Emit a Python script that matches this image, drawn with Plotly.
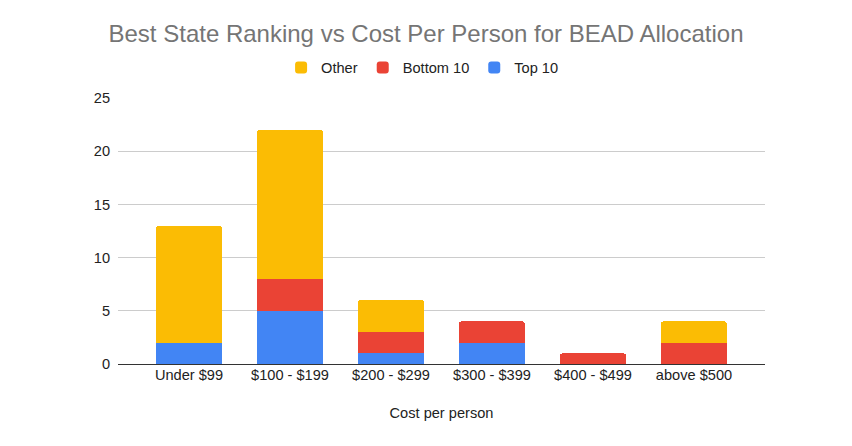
import plotly.graph_objects as go

categories = ["Under $99", "$100 - $199", "$200 - $299", "$300 - $399", "$400 - $499", "above $500"]
top10 = [2, 5, 1, 2, 0, 0]
bottom10 = [0, 3, 2, 2, 1, 2]
other = [11, 14, 3, 0, 0, 2]
y_ticks = [0, 5, 10, 15, 20, 25]

fig = go.Figure()
fig.add_trace(go.Bar(name="Top 10", x=categories, y=top10, marker_color="#4285F4", marker_line_width=0))
fig.add_trace(go.Bar(name="Bottom 10", x=categories, y=bottom10, marker_color="#EA4335", marker_line_width=0))
fig.add_trace(go.Bar(name="Other", x=categories, y=other, marker_color="#FBBC04", marker_line_width=0))

font = "Liberation Sans, Arial, sans-serif"
fig.update_layout(
    barmode="stack",
    bargap=0.35,
    barcornerradius=2,
    width=852, height=446,
    margin=dict(l=118, r=87, t=98, b=82),
    paper_bgcolor="white", plot_bgcolor="white",
    font=dict(family=font, size=14.6, color="#222222"),
    title=dict(text="Best State Ranking vs Cost Per Person for BEAD Allocation",
               x=0.5, xanchor="center", y=0.925, yanchor="middle",
               font=dict(size=24, color="#757575", family=font)),
    legend=dict(orientation="h", x=0.47, xanchor="center",
                y=1.115, yanchor="middle",
                traceorder="reversed", font=dict(size=14.6, color="#222222"),
                itemwidth=30),
    showlegend=True,
    xaxis=dict(range=[-0.703, 5.703], showgrid=False, showline=False, ticks="",
               tickangle=0,
               title=dict(text="Cost per person", font=dict(size=14.6, color="#222222"), standoff=26),
               tickfont=dict(size=14.6, color="#222222")),
    yaxis=dict(range=[0, 25], tickvals=y_ticks, showgrid=True, gridcolor="#cccccc", gridwidth=1,
               zeroline=True, zerolinecolor="#333333", zerolinewidth=1, showline=False,
               ticks="", ticklabelstandoff=7, tickfont=dict(size=14.6, color="#222222")),
)

fig.write_html("out.html")
